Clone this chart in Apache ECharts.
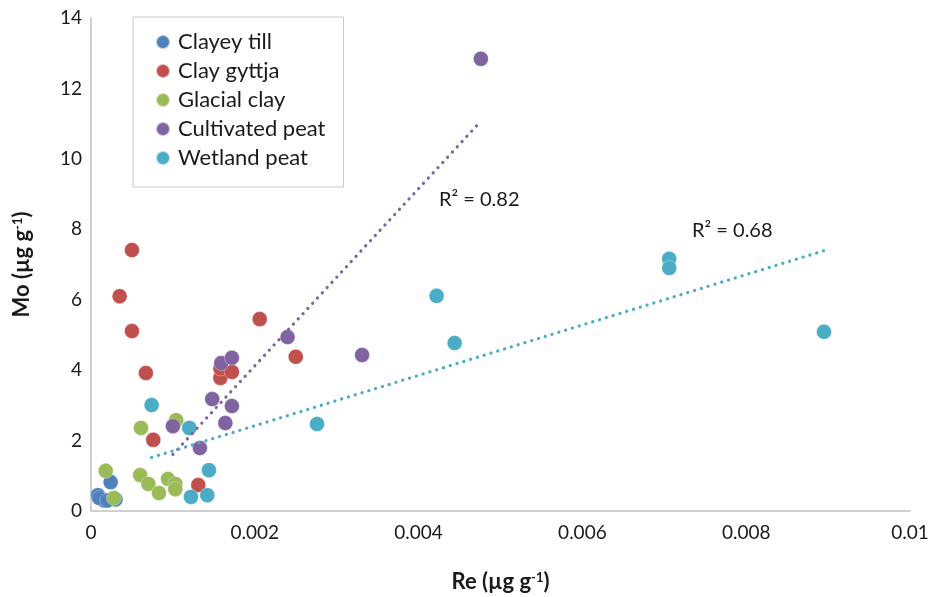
<!DOCTYPE html>
<html lang="en">
<head>
    <meta charset="UTF-8">
    <title>Mo vs Re</title>
    <script type="text/javascript" src="https://cdn.jsdelivr.net/npm/echarts@6/dist/echarts.min.js"></script>
    <style>
        html, body { margin: 0; padding: 0; background: #fff; }
    </style>
</head>
<body>
<div id="main" style="width:935px;height:597px;"></div>
</body>

<script>
    // Re (x) and Mo (y) per soil type
    const clayeyTillRe = [0.000085, 0.00024, 0.0003, 0.00016, 0.0001, 0.0002];
    const clayeyTillMo = [0.45, 0.82, 0.33, 0.3, 0.37, 0.3];

    const clayGyttjaRe = [0.0005, 0.00035, 0.0005, 0.00067, 0.00076, 0.00158, 0.00158, 0.00172, 0.00206, 0.0025, 0.00131];
    const clayGyttjaMo = [7.41, 6.1, 5.11, 3.92, 2.02, 3.78, 4.05, 3.95, 5.45, 4.38, 0.74];

    const glacialClayRe = [0.00018, 0.00028, 0.00061, 0.0006, 0.0007, 0.00083, 0.00094, 0.00103, 0.00103, 0.00104];
    const glacialClayMo = [1.14, 0.37, 2.36, 1.02, 0.77, 0.51, 0.91, 0.77, 0.62, 2.58];

    const cultPeatRe = [0.00476, 0.001, 0.00133, 0.00148, 0.00164, 0.00172, 0.00159, 0.00172, 0.0024, 0.00331];
    const cultPeatMo = [12.84, 2.41, 1.79, 3.18, 2.5, 2.98, 4.2, 4.35, 4.94, 4.43];

    const wetPeatRe = [0.00074, 0.0012, 0.00144, 0.00122, 0.00142, 0.00276, 0.00422, 0.00444, 0.00706, 0.00706, 0.00895];
    const wetPeatMo = [3.01, 2.36, 1.16, 0.4, 0.45, 2.47, 6.11, 4.77, 7.16, 6.9, 5.09];

    const seriesNames = ['Clayey till', 'Clay gyttja', 'Glacial clay', 'Cultivated peat', 'Wetland peat'];
    const colors = ['#4F81BD', '#C0504D', '#9BBB59', '#8064A2', '#4BACC6'];
    const r2Labels = ['R² = 0.82', 'R² = 0.68'];

    const font = 'Lato, "Open Sans", sans-serif';
    const ink = '#1a1a1a';

    function zip(xs, ys) {
        return xs.map((x, i) => [x, ys[i]]);
    }

    // least squares line over the data range, like a spreadsheet trendline
    function trend(xs, ys) {
        let n = xs.length;
        let mx = xs.reduce((a, b) => a + b, 0) / n;
        let my = ys.reduce((a, b) => a + b, 0) / n;
        let sxy = 0, sxx = 0;
        for (let i = 0; i < n; i++) {
            sxy += (xs[i] - mx) * (ys[i] - my);
            sxx += (xs[i] - mx) * (xs[i] - mx);
        }
        let b = sxy / sxx;
        let a = my - b * mx;
        let x0 = Math.min(...xs), x1 = Math.max(...xs);
        return [[x0, a + b * x0], [x1, a + b * x1]];
    }

    let allData = [
        zip(clayeyTillRe, clayeyTillMo),
        zip(clayGyttjaRe, clayGyttjaMo),
        zip(glacialClayRe, glacialClayMo),
        zip(cultPeatRe, cultPeatMo),
        zip(wetPeatRe, wetPeatMo)
    ];

    let series = allData.map((d, i) => ({
        name: seriesNames[i],
        type: 'scatter',
        data: d,
        symbolSize: 15,
        itemStyle: { color: colors[i], opacity: 1, borderColor: 'rgba(255,255,255,0.6)', borderWidth: 0.5 },
        z: 3
    }));

    let cultTrend = trend(cultPeatRe, cultPeatMo);
    let wetTrend = trend(wetPeatRe, wetPeatMo);

    function trendSeries(pts, color, label, labelAt) {
        return {
            type: 'line',
            data: pts,
            symbol: 'none',
            silent: true,
            z: 4,
            lineStyle: { color: color, width: 3.2, type: [0.1, 7], cap: 'round' },
            markPoint: {
                symbol: 'circle',
                symbolSize: 0,
                data: [{ coord: labelAt, value: label }],
                label: {
                    show: true,
                    formatter: label,
                    color: ink,
                    fontSize: 20,
                    fontFamily: font
                }
            }
        };
    }

    series.push(trendSeries(cultTrend, colors[3], r2Labels[0], [0.00474, 8.84]));
    series.push(trendSeries(wetTrend, colors[4], r2Labels[1], [0.00783, 7.95]));

    let titleRich = {
        b: { fontSize: 22, fontWeight: 'bold', color: ink, fontFamily: font },
        sup: { fontSize: 13, fontWeight: 'bold', color: ink, fontFamily: font, padding: [0, 0, 9, 0] }
    };

    let myChart = echarts.init(document.getElementById('main'));
    let option = {
        animation: false,
        backgroundColor: '#fff',
        grid: { left: 91, right: 25, top: 18, bottom: 86, outerBoundsMode: 'none', containLabel: false },
        legend: {
            data: seriesNames,
            orient: 'vertical',
            left: 133,
            top: 17,
            padding: [14, 18, 18, 22],
            itemGap: 7,
            itemWidth: 14,
            itemHeight: 14,
            icon: 'circle',
            borderColor: '#c8c8c8',
            borderWidth: 1,
            textStyle: { fontSize: 22, color: ink, fontFamily: font, padding: [0, 0, 0, 3] }
        },
        xAxis: {
            type: 'value',
            min: 0,
            max: 0.01,
            interval: 0.002,
            name: '{b|Re (µg g}{sup|-1}{b|)}',
            nameLocation: 'middle',
            nameGap: 60,
            nameTextStyle: { rich: titleRich },
            axisLine: { show: true, lineStyle: { color: '#d0d0d0', width: 2 } },
            axisTick: { show: false },
            splitLine: { show: false },
            axisLabel: { fontSize: 19, color: ink, fontFamily: font, margin: 12 }
        },
        yAxis: {
            type: 'value',
            min: 0,
            max: 14,
            interval: 2,
            name: '{b|Mo (µg g}{sup|-1}{b|)}',
            nameLocation: 'middle',
            nameGap: 58,
            nameTextStyle: { rich: titleRich },
            axisLine: { show: true, lineStyle: { color: '#d0d0d0', width: 2 } },
            axisTick: { show: false },
            splitLine: { show: false },
            axisLabel: { fontSize: 19, color: ink, fontFamily: font, margin: 9 }
        },
        series: series
    };
    myChart.setOption(option);
</script>
</html>
